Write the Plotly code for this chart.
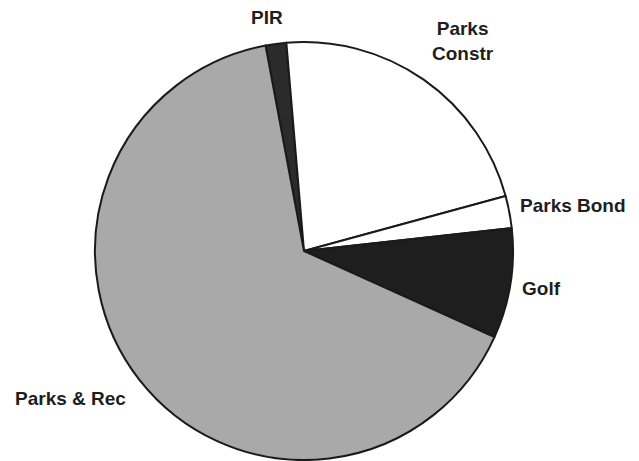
import plotly.graph_objects as go

# Budget share by fund (percent of total)
labels = ["PIR", "Parks Constr", "Parks Bond", "Golf", "Parks & Rec"]
label_text = ["PIR", "Parks<br>Constr", "Parks Bond", "Golf", "Parks & Rec"]
shares = [1.6, 22.1, 2.5, 8.5, 65.3]

colors = ["#2b2b2b", "#ffffff", "#ffffff", "#1e1e1e", "#a9a9a9"]

# label anchor points (pixel coords from top-left) and alignment
label_pos = [
    (267, 17, "center"),
    (463, 41, "center"),
    (518, 205, "left"),
    (520, 288, "left"),
    (13, 398, "left"),
]

W, H = 639, 461
cx, cy, r = 304, 251, 209

fig = go.Figure(
    go.Pie(
        labels=labels,
        values=shares,
        sort=False,
        direction="clockwise",
        rotation=-10.6,
        textinfo="none",
        hoverinfo="label+percent",
        marker=dict(colors=colors, line=dict(color="#1a1a1a", width=2)),
        domain=dict(
            x=[(cx - r) / W, (cx + r) / W],
            y=[1 - (cy + r) / H, 1 - (cy - r) / H],
        ),
        showlegend=False,
    )
)

for txt, (px, py, align) in zip(label_text, label_pos):
    fig.add_annotation(
        x=px / W,
        y=1 - py / H,
        xref="paper",
        yref="paper",
        text=txt,
        showarrow=False,
        xanchor=align,
        yanchor="middle",
        align="center",
        font=dict(family="Liberation Sans", size=19, color="#1e1e1e", weight="bold"),
    )

fig.update_layout(
    width=W,
    height=H,
    margin=dict(l=0, r=0, t=0, b=0),
    paper_bgcolor="white",
    plot_bgcolor="white",
)

fig.write_html("out.html")
